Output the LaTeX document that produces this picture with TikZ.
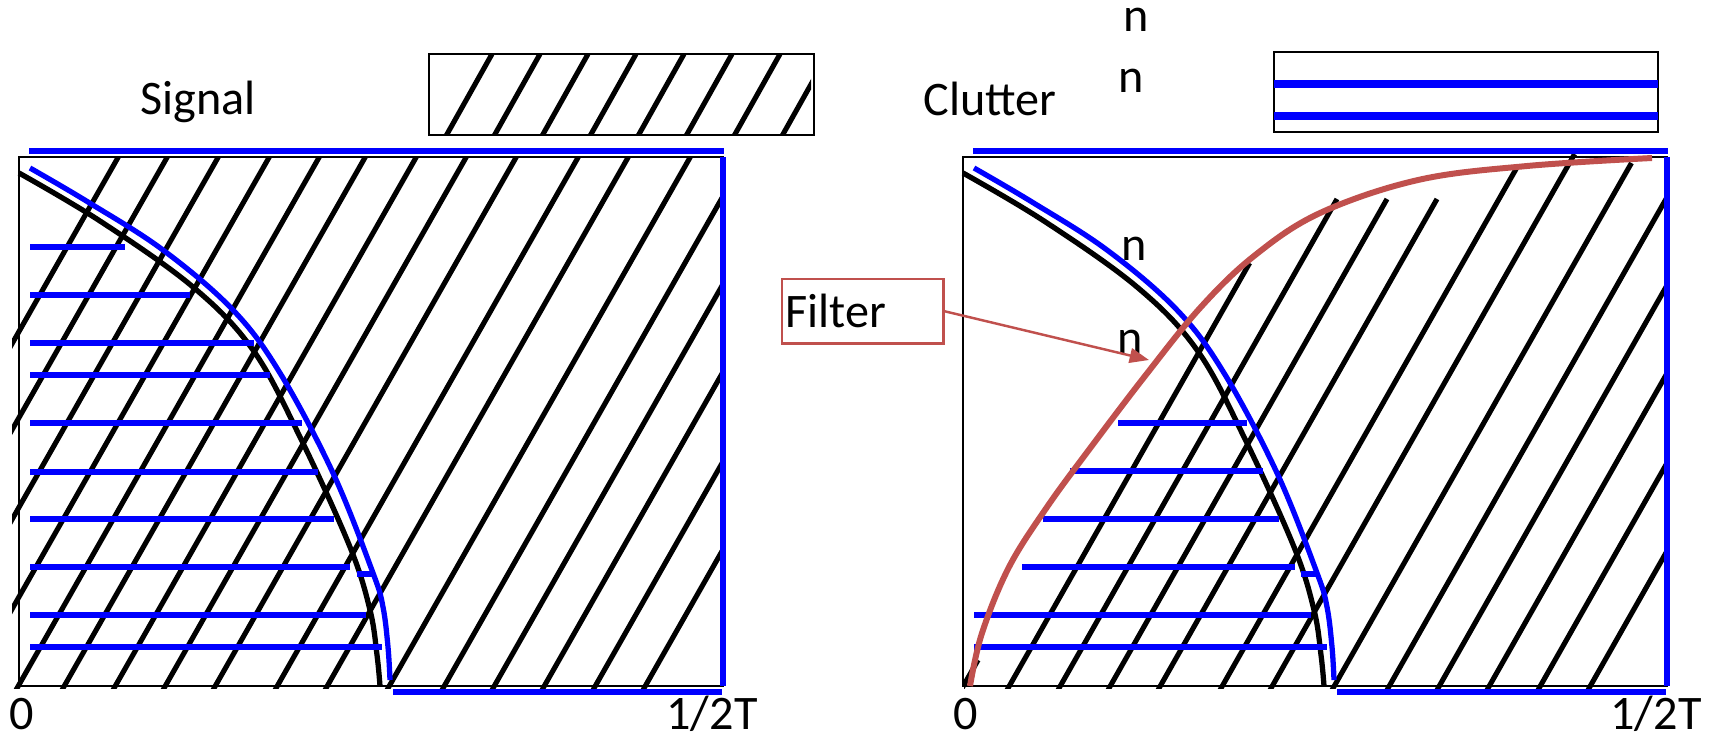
\documentclass[tikz,border=0pt]{standalone}
\usepackage{fontspec}
\setmainfont{Carlito}
\usetikzlibrary{arrows.meta}
\definecolor{filterred}{RGB}{192,80,77}
\begin{document}
\begin{tikzpicture}[x=0.01cm, y=-0.01cm,
  every node/.style={font=\fontsize{13.7}{16}\selectfont, inner sep=0pt},
  panelframe/.style={draw=black, line width=0.7pt},
  hatch/.style={black, line width=1.45pt},
  curveblack/.style={black, line width=1.5pt},
  curveblue/.style={blue, line width=1.5pt},
  bluebar/.style={blue, line width=1.6pt},
  bluerim/.style={blue, line width=1.8pt},
  filtercurve/.style={filterred, line width=1.7pt},
  filterbox/.style={draw=filterred, line width=0.7pt, anchor=north west, minimum width=1.61cm, minimum height=0.64cm, text width=1.55cm, inner xsep=0.03cm, align=left},
  filterarrow/.style={filterred, line width=0.7pt, -{Triangle[length=5.5pt,width=4.2pt]}}]
  \useasboundingbox (0,0) rectangle (1710,736);
  % hatching, signal panel
  \begin{scope}
    \clip (12,157) rectangle (721,688);
    \foreach \b in {-185,-136,-85,-34,16,62,113,163,213,275,325,387,442,492,542,593,643}
      \draw[hatch] (\b,690) -- ++(305,-536);
  \end{scope}
  % hatching, clutter panel (below the filter)
  \begin{scope}
    \clip (964,152) rectangle (1665,688);
    \foreach \b/\t in {961/660,1007/263,1058/199,1108/199,1158/199,1220/167,1270/154,1332/163,1387/150,1437/150,1487/150,1538/150,1588/150}
      \draw[hatch] (\b,690) -- ({\b+(690-\t)/1.76},\t);
  \end{scope}
  % both panels
  \foreach \dx/\p in {0/sig,944/clt} {
    \begin{scope}[xshift=\dx*0.01cm]
      \draw[panelframe] (19,157) rectangle (723,686);
      \draw[curveblack] plot[smooth,tension=0.6] coordinates {(19,173) (100,221) (193,287) (253,350) (300,437) (350,547) (370,610) (377,655) (380,686)};
      \draw[curveblue] plot[smooth,tension=0.6] coordinates {(30,168) (88,202) (163,250) (233,310) (280,373) (333,473) (373,573) (383,607) (388,647) (390,680)};
      \draw[bluerim] (29,151) -- (724,151);
      \draw[bluerim] (723,157) -- (723,686);
      \draw[bluerim] (393,692) -- (722,692);
      \draw[bluebar] (357,574) -- (373,574);
      \node[anchor=base] (zero\p) at (22,729) {0};
      \node[anchor=base] (half\p) at (712,729) {1/2T};
    \end{scope}
  }
  % blue bars
  \foreach \y/\xr in {247/125,295/190,343/254,375/270,423/302,472/318,519/334,567/350,615/366,647/382}
    \draw[bluebar] (30,\y) -- (\xr,\y);
  \foreach \xl/\y/\xr in {1118/423/1247,1070/471/1263,1043/519/1279,1022/567/1295,974/615/1311,974/647/1327}
    \draw[bluebar] (\xl,\y) -- (\xr,\y);
  % legends
  \node[anchor=base] (signal) at (198,114) {Signal};
  \draw[panelframe] (429,54) rectangle (814,135);
  \begin{scope}
    \clip (429,54) rectangle (811,135);
    \foreach \k in {0,...,7}
      \draw[hatch] ({446+48*\k},136) -- ++(46,-82);
  \end{scope}
  \node[anchor=base] (clutter) at (990,115) {Clutter};
  \draw[panelframe] (1274,52) rectangle (1658,132);
  \foreach \y in {84,116}
    \draw[blue, line width=2pt] (1274,\y) -- (1658,\y);
  \foreach \x/\y [count=\i] in {1136/31,1131/92,1134/260,1130/353}
    \node[anchor=base] (n\i) at (\x,\y) {n};
  % filter
  \draw[filtercurve] plot[smooth,tension=0.6] coordinates {(970,686) (982,633) (1009,567) (1047,507) (1091,447) (1145,376) (1200,308) (1254,256) (1320,213) (1418,180) (1527,166) (1652,158)};
  \node[filterbox] (filter) at (781,278) {Filter};
  \coordinate (filtertip) at (1149,360);
  \draw[filterarrow] (filter.east) -- (filtertip);
\end{tikzpicture}
\end{document}
